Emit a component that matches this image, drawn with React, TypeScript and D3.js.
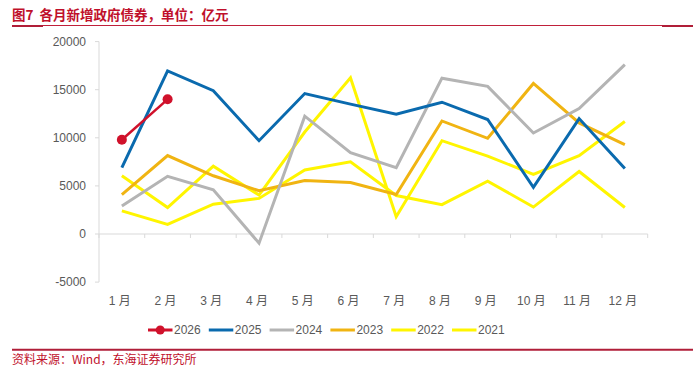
import React from "react";
import * as d3 from "d3";

const months = ["1月", "2月", "3月", "4月", "5月", "6月", "7月", "8月", "9月", "10月", "11月", "12月"];
const monthLabels = ["1 月", "2 月", "3 月", "4 月", "5 月", "6 月", "7 月", "8 月", "9 月", "10 月", "11 月", "12 月"];
const yTicks = [-5000, 0, 5000, 10000, 15000, 20000];

const s2026 = [9800, 14000];
const s2025 = [6900, 16950, 14900, 9700, 14600, 13500, 12450, 13700, 11900, 4850, 12000, 6800];
const s2024 = [2900, 6000, 4600, -950, 12250, 8450, 6900, 16200, 15350, 10500, 13050, 17600];
const s2023 = [4100, 8150, 6050, 4500, 5550, 5350, 4100, 11750, 9950, 15650, 11550, 9300];
const s2022 = [6050, 2750, 7050, 4050, 10600, 16250, 1800, 9700, 8100, 6200, 8150, 11700];
const s2021 = [2400, 1000, 3100, 3700, 6650, 7500, 4000, 3050, 5500, 2800, 6500, 2750];

const seriesNames = ["2026", "2025", "2024", "2023", "2022", "2021"];
const seriesData = [s2026, s2025, s2024, s2023, s2022, s2021];
const seriesColors = ["#D0112B", "#0A6AAE", "#B4B4B4", "#F0B412", "#FFF500", "#FFF500"];

const W = 693;
const H = 368;
const FONT = "'Liberation Sans', Arial, 'Noto Sans CJK SC', sans-serif";
const CJK = "'Noto Sans CJK SC', 'Liberation Sans', sans-serif";

export default function App() {
  const x = d3.scaleBand<string>().domain(months).range([99, 647.7]);
  const y = d3.scaleLinear().domain([-5000, 20000]).range([282.1, 41.6]);
  const cx = (i: number) => (x(months[i]) as number) + x.bandwidth() / 2;
  const line = d3
    .line<number>()
    .x((_, i) => cx(i))
    .y((d) => y(d));
  const drawOrder = [5, 4, 3, 2, 1, 0];
  const boundaries = d3.range(13).map((i) => 99 + i * x.bandwidth());

  return (
    <svg
      width={W}
      height={H}
      style={{ position: "absolute", left: 0, top: 0, background: "#fff" }}
    >
      <text
        x={12}
        y={20}
        fill="#C0102B"
        fontSize={13.5}
        fontWeight="bold"
        fontFamily={CJK}
        style={{ whiteSpace: "pre" }}
      >
        {"图7  各月新增政府债券，单位：亿元"}
      </text>
      <line x1={12} x2={693} y1={25.5} y2={25.5} stroke="#C0203A" strokeWidth={1} />
      <line x1={12} x2={43} y1={26} y2={26} stroke="#B01E38" strokeWidth={2} />
      <line x1={662} x2={693} y1={26} y2={26} stroke="#B01E38" strokeWidth={2} />

      {/* y axis */}
      <line x1={99} x2={99} y1={y(20000)} y2={y(-5000)} stroke="#D9D9D9" />
      {yTicks.map((t) => (
        <g key={t}>
          <line x1={95} x2={99} y1={y(t)} y2={y(t)} stroke="#D9D9D9" />
          <text
            x={86}
            y={y(t)}
            dy="0.35em"
            textAnchor="end"
            fontSize={12}
            fill="#595959"
            fontFamily={FONT}
          >
            {t}
          </text>
        </g>
      ))}

      {/* x axis at zero */}
      <line x1={99} x2={647.7} y1={y(0)} y2={y(0)} stroke="#D9D9D9" />
      {boundaries.map((b, i) => (
        <line key={i} x1={b} x2={b} y1={y(0)} y2={y(0) + 4} stroke="#D9D9D9" />
      ))}
      {monthLabels.map((m, i) => (
        <text
          key={m}
          x={cx(i) - 2}
          y={301}
          dy="0.35em"
          textAnchor="middle"
          fontSize={12}
          fill="#595959"
          fontFamily={FONT}
        >
          {m}
        </text>
      ))}

      {/* series */}
      {drawOrder.map((si) => (
        <path
          key={si}
          d={line(seriesData[si]) || ""}
          fill="none"
          stroke={seriesColors[si]}
          strokeWidth={si === 0 ? 2.5 : 3}
          strokeLinejoin="miter"
        />
      ))}
      {s2026.map((v, i) => (
        <circle key={i} cx={cx(i)} cy={y(v)} r={5} fill={seriesColors[0]} />
      ))}

      {/* legend */}
      {seriesNames.map((n, i) => {
        const lx = 148 + i * 60.8;
        return (
          <g key={n}>
            <line x1={lx} x2={lx + 24.5} y1={330} y2={330} stroke={seriesColors[i]} strokeWidth={3} />
            {i === 0 && <circle cx={lx + 12.2} cy={330} r={4.5} fill={seriesColors[0]} />}
            <text x={lx + 26} y={330} dy="0.35em" fontSize={12} fill="#595959" fontFamily={FONT}>
              {n}
            </text>
          </g>
        );
      })}

      <line x1={12} x2={693} y1={349.8} y2={349.8} stroke="#B01E38" strokeWidth={2} />
      <text x={12} y={364} fill="#C0102B" fontSize={12} fontFamily={CJK}>
        资料来源：Wind，东海证券研究所
      </text>
    </svg>
  );
}
